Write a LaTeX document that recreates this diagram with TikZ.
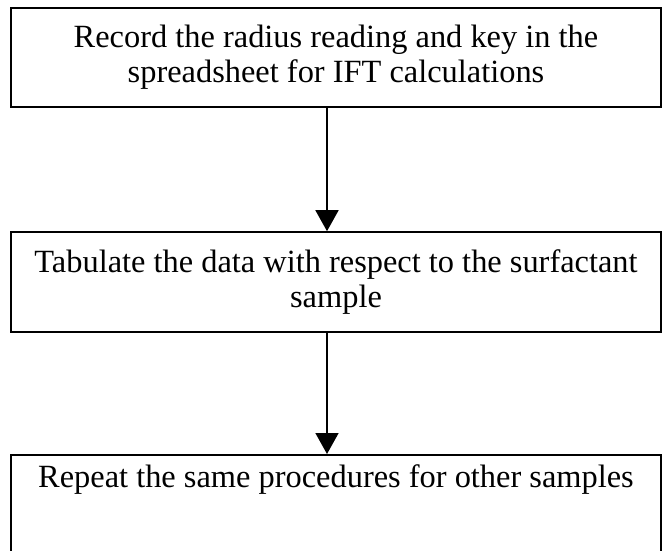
\documentclass[tikz,border=0pt]{standalone}
\usepackage{fontspec}
\setmainfont{Liberation Serif}
\usetikzlibrary{arrows.meta}
\begin{document}
\begin{tikzpicture}[x=1pt,y=-1pt,
  stepbox/.style={draw, line width=1.6pt, minimum width=650pt, align=center,
    font=\fontsize{32.4}{35}\selectfont},
  flow/.style={-{Triangle[width=23pt,length=21pt]}, line width=1.6pt}]
\useasboundingbox (0,0) rectangle (662,551);
\node[stepbox, minimum height=99pt] (rec) at (336,57.5) {Record the radius reading and key in the\\spreadsheet for IFT calculations};
\node[stepbox, minimum height=100pt] (tab) at (336,282) {Tabulate the data with respect to the surfactant\\sample};
\node[stepbox, anchor=north, inner ysep=10pt, text depth=100pt] (rep) at (336,454) {Repeat the same procedures for other samples};
\draw[flow] ([xshift=-9pt]rec.south) -- ([xshift=-9pt]tab.north);
\draw[flow] ([xshift=-9pt]tab.south) -- ([xshift=-9pt]rep.north);
\end{tikzpicture}
\end{document}
